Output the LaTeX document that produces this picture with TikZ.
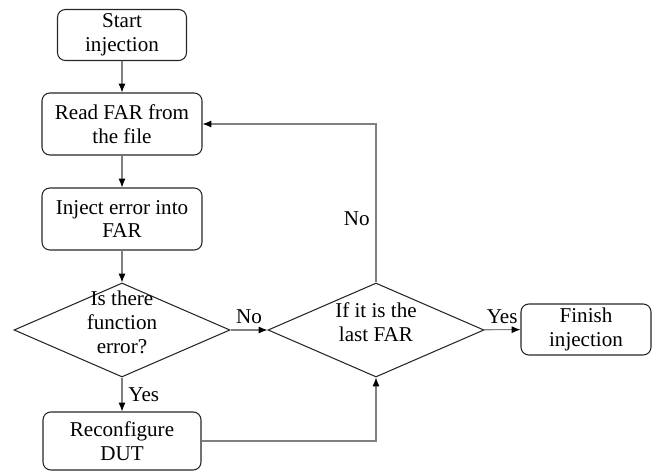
\documentclass[tikz,border=0pt]{standalone}
\usepackage{fontspec}
\newfontfamily\timesfont{LiberationSerif-Regular.ttf}
\usepackage{tikz}
\usetikzlibrary{arrows.meta,shapes.geometric,positioning}

\begin{document}
\begin{tikzpicture}[font=\timesfont\fontsize{12}{13.6}\selectfont,
  box/.style={draw=black!85, line width=0.6pt, rounded corners=4.5pt, align=center, inner sep=2pt},
  decision/.style={diamond, draw=black!85, line width=0.6pt, inner sep=0pt, aspect=2.3, minimum width=4.32cm, minimum height=1.88cm},
  flow/.style={draw=black!50, line width=0.6pt, -{Latex[length=5pt,width=4pt,color=black]}}]
\useasboundingbox (0,0) rectangle (13.12,9.46);
\node[box, minimum width=2.58cm, minimum height=1.02cm] (start) at (2.44,8.76) {Start\\injection};
\node[box, minimum width=3.2cm, minimum height=1.24cm] (read) at (2.44,6.98) {Read FAR from\\the file};
\node[box, minimum width=3.2cm, minimum height=1.24cm] (inject) at (2.44,5.08) {Inject error into\\FAR};
\node[decision] (err) at (2.44,2.86) {\smash{\begin{tabular}{@{}c@{}}Is there\\function\\error?\end{tabular}}};
\node[box, minimum width=3.16cm, minimum height=1.16cm] (reconf) at (2.44,0.64) {Reconfigure\\DUT};
\node[decision] (last) at (7.52,2.86) {\smash{\begin{tabular}{@{}c@{}}If it is the\\last FAR\end{tabular}}};
\node[box, minimum width=2.6cm, minimum height=1.02cm] (finish) at (11.72,2.87) {Finish\\injection};
\draw[flow] (start) -- (read);
\draw[flow] (read) -- (inject);
\draw[flow] (inject) -- (err);
\draw[flow] (err) to node[above] {No} (last);
\draw[flow] (err) to node[right] {Yes} (reconf);
\draw[flow] (reconf.east) -| (last.south);
\draw[flow] (last) to node[above] {Yes} (finish);
\draw[flow] (last.north) |- node[pos=0.2, left] {No} (read.east);
\end{tikzpicture}
\end{document}
